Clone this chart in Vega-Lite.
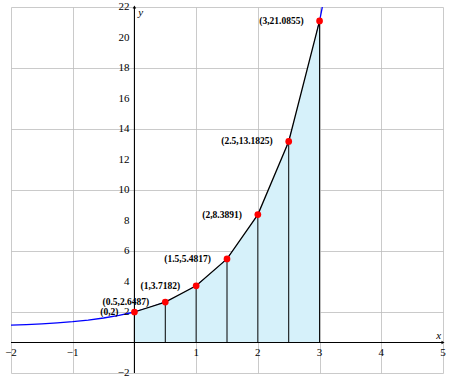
{
  "$schema": "https://vega.github.io/schema/vega-lite/v6.json",
  "width": 432,
  "height": 366,
  "autosize": "none",
  "padding": {"left": 11, "top": 7, "right": 7, "bottom": 8},
  "background": "white",
  "config": {"view": {"stroke": null}, "font": "Liberation Serif", "text": {"font": "Liberation Serif"}},
  "datasets": {
    "curve": [
      {"x": -2, "y": 1.1353}, {"x": -1.75, "y": 1.1738}, {"x": -1.5, "y": 1.2231}, {"x": -1.25, "y": 1.2865},
      {"x": -1, "y": 1.3679}, {"x": -0.75, "y": 1.4724}, {"x": -0.5, "y": 1.6065}, {"x": -0.25, "y": 1.7788},
      {"x": 0, "y": 2}, {"x": 0.25, "y": 2.284}, {"x": 0.5, "y": 2.6487}, {"x": 0.75, "y": 3.117},
      {"x": 1, "y": 3.7183}, {"x": 1.25, "y": 4.4903}, {"x": 1.5, "y": 5.4817}, {"x": 1.75, "y": 6.7546},
      {"x": 2, "y": 8.3891}, {"x": 2.125, "y": 9.3729}, {"x": 2.25, "y": 10.4877}, {"x": 2.375, "y": 11.7515},
      {"x": 2.5, "y": 13.1825}, {"x": 2.625, "y": 14.8046}, {"x": 2.75, "y": 16.6426}, {"x": 2.875, "y": 18.726},
      {"x": 3, "y": 21.0855}, {"x": 3.0445, "y": 22}
    ],
    "pts": [
      {"x": 0, "y": 2, "label": "(0,2)", "z": 0},
      {"x": 0.5, "y": 2.6487, "label": "(0.5,2.6487)", "z": 0},
      {"x": 1, "y": 3.7182, "label": "(1,3.7182)", "z": 0},
      {"x": 1.5, "y": 5.4817, "label": "(1.5,5.4817)", "z": 0},
      {"x": 2, "y": 8.3891, "label": "(2,8.3891)", "z": 0},
      {"x": 2.5, "y": 13.1825, "label": "(2.5,13.1825)", "z": 0},
      {"x": 3, "y": 21.0855, "label": "(3,21.0855)", "z": 0}
    ],
    "xticks": [
      {"x": -2, "y": 0, "t": "−2"}, {"x": -1, "y": 0, "t": "−1"}, {"x": 1, "y": 0, "t": "1"}, {"x": 2, "y": 0, "t": "2"},
      {"x": 3, "y": 0, "t": "3"}, {"x": 4, "y": 0, "t": "4"}, {"x": 5, "y": 0, "t": "5"}
    ],
    "yticks": [
      {"x": 0, "y": -2, "t": "−2"}, {"x": 0, "y": 2, "t": "2"}, {"x": 0, "y": 4, "t": "4"}, {"x": 0, "y": 6, "t": "6"}, {"x": 0, "y": 8, "t": "8"},
      {"x": 0, "y": 10, "t": "10"}, {"x": 0, "y": 12, "t": "12"}, {"x": 0, "y": 14, "t": "14"}, {"x": 0, "y": 16, "t": "16"},
      {"x": 0, "y": 18, "t": "18"}, {"x": 0, "y": 20, "t": "20"}, {"x": 0, "y": 22, "t": "22"}
    ],
    "axes": [
      {"x": -2, "y": 0, "x2": 5, "y2": 0},
      {"x": 0, "y": -2, "x2": 0, "y2": 22}
    ],
    "arrows": [
      {"x": 5, "y": 0, "shape": "triangle-right"},
      {"x": 0, "y": 22, "shape": "triangle-up"}
    ],
    "names": [
      {"x": 4.93, "y": 0.45, "t": "x"},
      {"x": 0.1, "y": 21.6, "t": "y"}
    ]
  },
  "layer": [
    {
      "data": {"name": "curve"},
      "mark": {"type": "line", "color": "#0000ff", "strokeWidth": 1.3, "clip": true},
      "encoding": {
        "x": {"field": "x", "type": "quantitative", "scale": {"domain": [-2, 5], "nice": false},
          "axis": {"values": [-2, -1, 0, 1, 2, 3, 4, 5], "grid": true, "gridColor": "#bdbdbd", "gridWidth": 0.8, "labels": false, "ticks": false, "domain": false, "title": null}},
        "y": {"field": "y", "type": "quantitative", "scale": {"domain": [-2, 22], "nice": false},
          "axis": {"values": [-2, 0, 2, 4, 6, 8, 10, 12, 14, 16, 18, 20, 22], "grid": true, "gridColor": "#bdbdbd", "gridWidth": 0.8, "labels": false, "ticks": false, "domain": false, "title": null}}
      }
    },
    {
      "data": {"name": "pts"},
      "mark": {"type": "area", "color": "#d6f1fa", "opacity": 1},
      "encoding": {
        "x": {"field": "x", "type": "quantitative"},
        "y": {"field": "y", "type": "quantitative"},
        "y2": {"field": "z"}
      }
    },
    {
      "data": {"name": "pts"},
      "mark": {"type": "rule", "color": "black", "strokeWidth": 1},
      "encoding": {
        "x": {"field": "x", "type": "quantitative"},
        "y": {"field": "y", "type": "quantitative"},
        "y2": {"field": "z"}
      }
    },
    {
      "data": {"name": "axes"},
      "mark": {"type": "rule", "color": "black", "strokeWidth": 1.1},
      "encoding": {
        "x": {"field": "x", "type": "quantitative"},
        "y": {"field": "y", "type": "quantitative"},
        "x2": {"field": "x2"},
        "y2": {"field": "y2"}
      }
    },
    {
      "data": {"name": "arrows"},
      "mark": {"type": "point", "filled": true, "color": "black", "size": 12, "opacity": 1},
      "encoding": {
        "x": {"field": "x", "type": "quantitative"},
        "y": {"field": "y", "type": "quantitative"},
        "shape": {"field": "shape", "type": "nominal", "scale": null}
      }
    },
    {
      "data": {"name": "pts"},
      "mark": {"type": "line", "color": "black", "strokeWidth": 1.3},
      "encoding": {
        "x": {"field": "x", "type": "quantitative"},
        "y": {"field": "y", "type": "quantitative"}
      }
    },
    {
      "data": {"name": "pts"},
      "mark": {"type": "circle", "color": "#ff0000", "size": 45, "opacity": 1},
      "encoding": {
        "x": {"field": "x", "type": "quantitative"},
        "y": {"field": "y", "type": "quantitative"}
      }
    },
    {
      "data": {"name": "pts"},
      "mark": {"type": "text", "align": "right", "baseline": "middle", "dx": -16, "fontSize": 9.5, "fontWeight": "bold", "font": "Liberation Serif", "color": "black"},
      "encoding": {
        "x": {"field": "x", "type": "quantitative"},
        "y": {"field": "y", "type": "quantitative"},
        "text": {"field": "label"}
      }
    },
    {
      "data": {"name": "xticks"},
      "mark": {"type": "text", "align": "center", "baseline": "top", "dy": 4, "fontSize": 11, "font": "Liberation Serif", "color": "black"},
      "encoding": {
        "x": {"field": "x", "type": "quantitative"},
        "y": {"field": "y", "type": "quantitative"},
        "text": {"field": "t"}
      }
    },
    {
      "data": {"name": "yticks"},
      "mark": {"type": "text", "align": "right", "baseline": "middle", "dx": -5, "fontSize": 11, "font": "Liberation Serif", "color": "black"},
      "encoding": {
        "x": {"field": "x", "type": "quantitative"},
        "y": {"field": "y", "type": "quantitative"},
        "text": {"field": "t"}
      }
    },
    {
      "data": {"name": "names"},
      "mark": {"type": "text", "align": "center", "baseline": "middle", "fontSize": 11, "fontStyle": "italic", "font": "Liberation Serif", "color": "black"},
      "encoding": {
        "x": {"field": "x", "type": "quantitative"},
        "y": {"field": "y", "type": "quantitative"},
        "text": {"field": "t"}
      }
    }
  ]
}
